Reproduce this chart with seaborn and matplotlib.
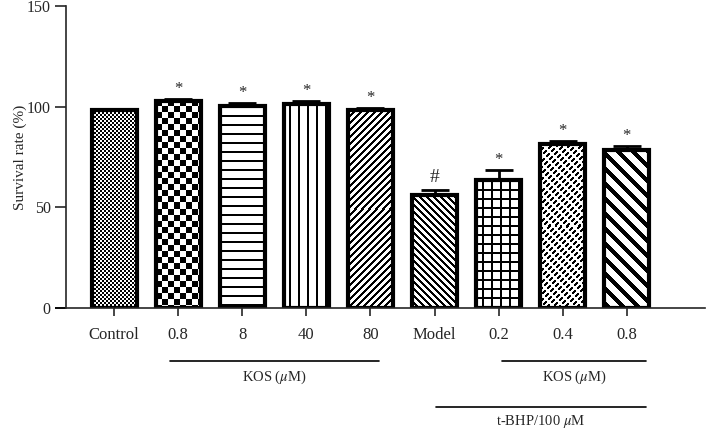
import numpy as np
import matplotlib
matplotlib.use('Agg')
import matplotlib.pyplot as plt
import seaborn as sns

sns.set_style('ticks')
plt.rcParams['font.family'] = ['Liberation Serif', 'DejaVu Serif']
plt.rcParams['mathtext.fontset'] = 'stix'

# data
groups = ['Control', 'KOS 0.8', 'KOS 8', 'KOS 40', 'KOS 80', 'Model', 'tBHP 0.2', 'tBHP 0.4', 'tBHP 0.8']
tick_labels = ['Control', '0.8', '8', '40', '80', 'Model', '0.2', '0.4', '0.8']
survival = [98.3, 103.0, 100.3, 101.5, 98.5, 56.0, 63.5, 81.5, 78.3]
sem = [0.0, 0.8, 1.6, 1.3, 0.9, 2.8, 4.8, 1.6, 2.0]
signif = ['', '*', '*', '*', '*', '#', '*', '*', '*']
fills = ['fine_checker', 'checker', 'hlines', 'vlines', 'diag_up', 'diag_down',
         'grid', 'dash_diag', 'thick_diag']

fig = plt.figure(figsize=(7.11, 4.30), dpi=100)
ax = fig.add_axes([66 / 711, (430 - 308) / 430, (705 - 66) / 711, 302 / 430])

sns.barplot(x=groups, y=survival, order=groups, color='white', edgecolor='black',
            linewidth=3, width=0.70, saturation=1, errorbar=None, ax=ax)

xmin, xmax = -0.75, 9.22
ax.set_xlim(xmin, xmax)
ax.set_ylim(0, 150)


def pattern(kind, h, w):
    i, j = np.mgrid[0:h, 0:w]
    if kind == 'fine_checker':
        black = ((i // 2 + j // 2) % 2) == 0
    elif kind == 'checker':
        black = ((i // 6 + j // 6) % 2) == 0
    elif kind == 'hlines':
        black = i % 9 < 2
    elif kind == 'vlines':
        black = (j + 4) % 9 < 2
    elif kind == 'diag_up':
        black = (i + j) % 7 < 3
    elif kind == 'diag_down':
        black = (i - j) % 7 < 3
    elif kind == 'grid':
        black = (i % 9 < 2) | ((j + 3) % 9 < 2)
    elif kind == 'dash_diag':
        black = ((i + j) % 6 < 3) & ((j - i) % 10 > 2)
    else:
        black = (i - j) % 15 < 6
    return np.where(black, 0.0, 1.0)


fig.canvas.draw()
for bar, kind in zip(ax.patches, fills):
    bar.set_facecolor('none')
    bb = bar.get_window_extent()
    h, w = int(round(bb.height)), int(round(bb.width))
    x0 = bar.get_x()
    img = ax.imshow(pattern(kind, h, w), cmap='gray', vmin=0, vmax=1,
                    extent=(x0, x0 + bar.get_width(), 0, bar.get_height()),
                    interpolation='nearest', aspect='auto', zorder=0.5)
    img.set_clip_path(bar)

ax.set_xlim(xmin, xmax)
ax.set_ylim(0, 150)

x = np.arange(len(groups))
ax.errorbar(x, survival, yerr=[np.zeros(len(sem)), sem], fmt='none', ecolor='black',
            elinewidth=2, capsize=10, capthick=2, zorder=3)
for xi, v, e, s in zip(x, survival, sem, signif):
    if s == '*':
        ax.text(xi, v + e + 1.0, s, ha='center', va='bottom', fontsize=12)
    elif s:
        ax.text(xi, v + e + 2.0, s, ha='center', va='bottom', fontsize=14)

sns.despine(ax=ax)
ax.spines['left'].set_bounds(0, 150)
ax.spines['left'].set_linewidth(1.2)
ax.spines['bottom'].set_linewidth(1.2)
ax.plot([-0.92, xmin], [0, 0], color='black', lw=1.2, clip_on=False,
        solid_capstyle='butt')

ax.set_yticks([0, 50, 100, 150])
ax.set_xticks(x)
ax.set_xticklabels(tick_labels)
ax.tick_params(axis='y', direction='out', length=8, width=1.2, labelsize=11.5, pad=3)
ax.tick_params(axis='x', direction='out', length=6, width=1.2, labelsize=12, pad=8)
ax.set_xlabel('')
ax.set_ylabel('Survival rate (%)', fontsize=11)
ax.yaxis.set_label_coords((27 - 66) / 639, 0.5)

# group brackets under the axis
tr = ax.get_xaxis_transform()
line_y1 = -(361 - 308) / 302
text_y1 = -(377 - 308) / 302
line_y2 = -(407 - 308) / 302
text_y2 = -(422 - 308) / 302
for a, b in [(0.88, 4.13), (6.06, 8.3)]:
    ax.plot([a, b], [line_y1, line_y1], color='black', lw=1.2, transform=tr, clip_on=False)
    ax.text((a + b) / 2, text_y1, r'KOS ($\mu$M)', ha='center', va='center',
            fontsize=10.5, transform=tr)
ax.plot([5.02, 8.3], [line_y2, line_y2], color='black', lw=1.2, transform=tr, clip_on=False)
ax.text(6.66, text_y2, r't-BHP/100 $\mu$M', ha='center', va='center', fontsize=10.5, transform=tr)

fig.savefig('out.png', dpi=100)
